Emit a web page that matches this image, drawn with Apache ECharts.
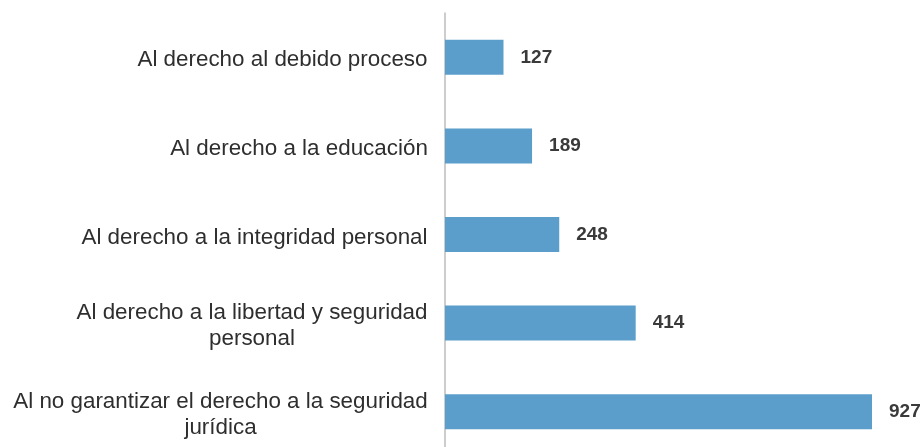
<!DOCTYPE html>
<html>
<head>
<meta charset="utf-8">
<script src="https://cdn.jsdelivr.net/npm/echarts@6/dist/echarts.min.js"></script>
<style>
  html, body { margin: 0; padding: 0; background: #fff; }
  #chart { width: 923px; height: 447px; }
</style>
</head>
<body>
<div id="chart"></div>
<script>
  // categories, top to bottom (lines split where the picture wraps them)
  const categories = [
    ['Al derecho al debido proceso'],
    ['Al derecho a la educación'],
    ['Al derecho a la integridad personal'],
    ['Al derecho a la libertad y seguridad', 'personal'],
    ['Al no garantizar el derecho a la seguridad', 'jurídica']
  ]
  const values = [127, 189, 248, 414, 927]

  const labelFont = '22.4px "Liberation Sans", Arial, sans-serif'

  // measure the widest line of each label so wrapped lines can be centred
  const ctx = document.createElement('canvas').getContext('2d')
  ctx.font = labelFont
  const rich = {}
  categories.forEach((lines, i) => {
    let w = 0
    lines.forEach(l => { w = Math.max(w, ctx.measureText(l).width) })
    rich['c' + i] = {
      width: Math.ceil(w),
      align: 'center',
      fontSize: 22.4,
      lineHeight: 26,
      fontFamily: '"Liberation Sans", Arial, sans-serif',
      color: '#2e2e2e'
    }
  })

  const chart = echarts.init(document.getElementById('chart'))
  chart.setOption({
    animation: false,
    grid: { left: 445, right: 51, top: 13, height: 443, outerBoundsMode: 'none', containLabel: false },
    xAxis: {
      type: 'value',
      min: 0,
      max: 927,
      show: false
    },
    yAxis: {
      type: 'category',
      inverse: true,
      data: categories.map((c, i) => String(i)),
      axisLine: { show: true, lineStyle: { color: '#bdbdbd', width: 1.5 } },
      axisTick: { show: false },
      axisLabel: {
        margin: 17,
        padding: [6, 0, 0, 0],
        formatter: (v) => {
          const i = +v
          return categories[i].map(l => '{c' + i + '|' + l + '}').join('\n')
        },
        rich: rich
      }
    },
    series: [{
      type: 'bar',
      data: values,
      barWidth: 35,
      itemStyle: { color: '#5b9ecb' },
      label: {
        show: true,
        position: 'right',
        distance: 17,
        fontSize: 19,
        fontWeight: 'bold',
        fontFamily: '"Liberation Sans", Arial, sans-serif',
        color: '#3a3a3a'
      }
    }]
  })
</script>
</body>
</html>
